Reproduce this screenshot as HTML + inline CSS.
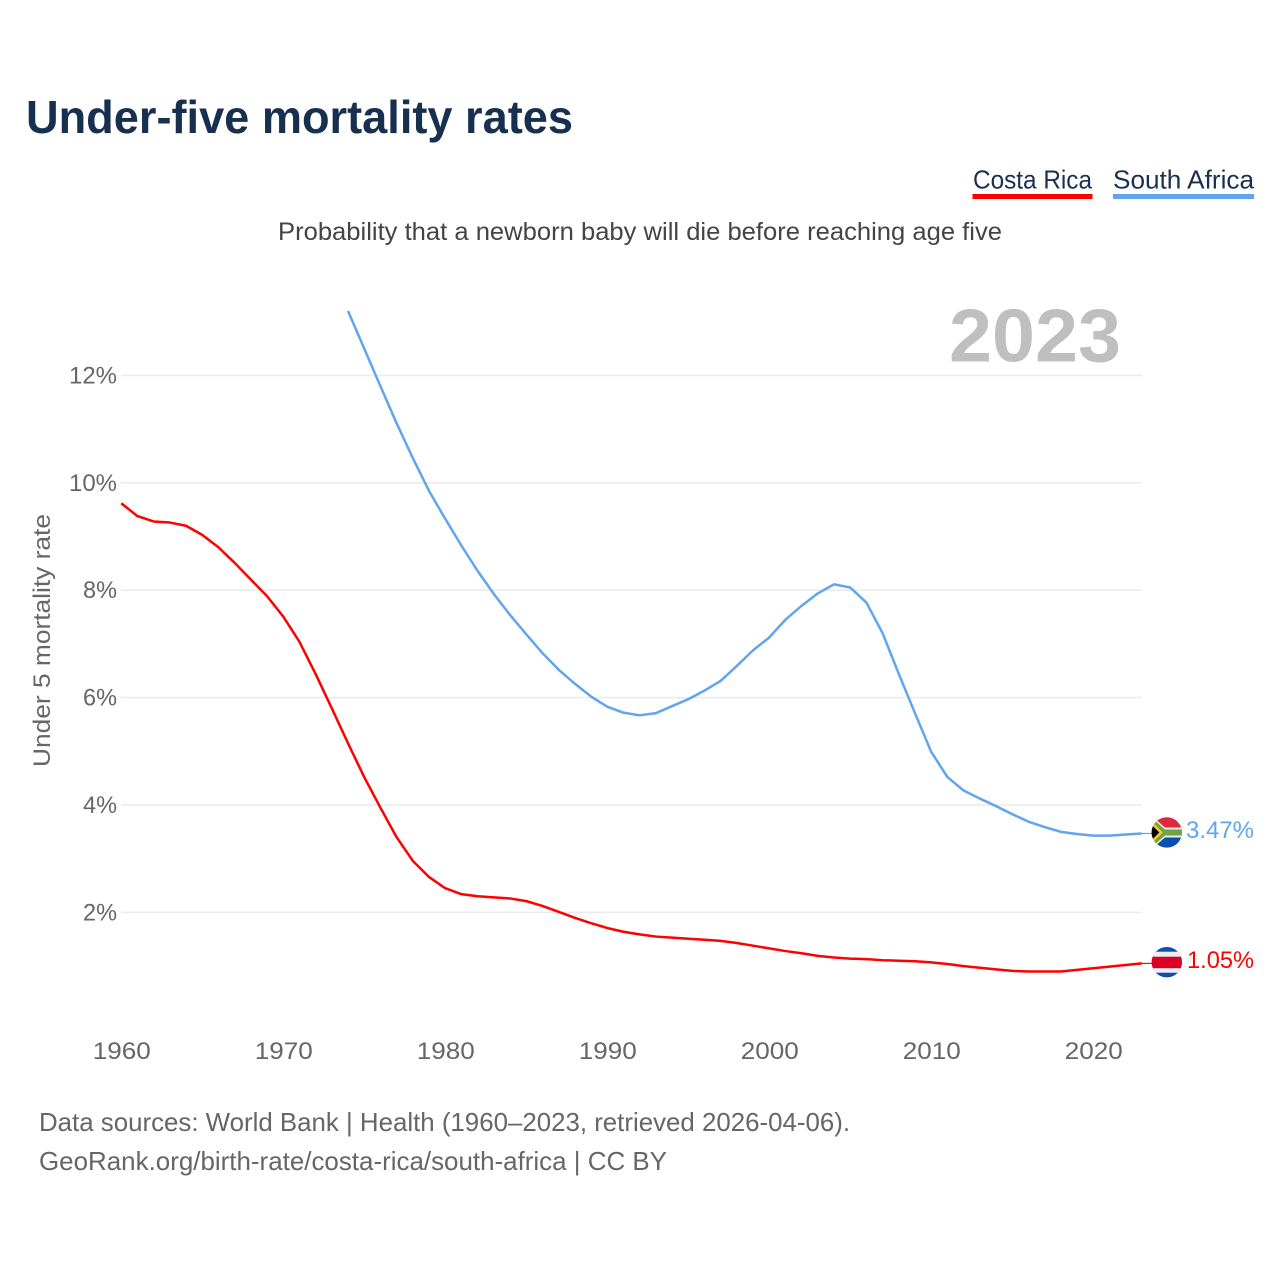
<!DOCTYPE html>
<html lang="en">
<head>
<meta charset="utf-8">
<title>Under-five mortality rates</title>
<style>
html,body{margin:0;padding:0;background:#fff;}
svg{display:block;font-family:"Liberation Sans",sans-serif;}
</style>
</head>
<body>
<svg id="chart" xmlns="http://www.w3.org/2000/svg" width="1280" height="1280" viewBox="0 0 1280 1280">
  <defs>
    <clipPath id="flag-clip"><circle cx="0" cy="0" r="15.2"/></clipPath>
  </defs>
  <rect x="0" y="0" width="1280" height="1280" fill="#ffffff"/>
  <text x="26" y="133" font-size="46" font-weight="700" fill="#17304f" textLength="547" lengthAdjust="spacingAndGlyphs">Under-five mortality rates</text>
  <text x="973" y="188.5" font-size="26" fill="#1a3050" textLength="119" lengthAdjust="spacingAndGlyphs">Costa Rica</text>
  <rect x="972.5" y="194" width="120" height="5" fill="#ff0000"/>
  <text x="1113" y="188.5" font-size="26" fill="#1a3050" textLength="141" lengthAdjust="spacingAndGlyphs">South Africa</text>
  <rect x="1113" y="194" width="141" height="5" fill="#60a5ee"/>
  <text x="278" y="240" font-size="25" fill="#444444" textLength="724" lengthAdjust="spacingAndGlyphs">Probability that a newborn baby will die before reaching age five</text>
  <g id="grid"></g>
  <text x="949" y="361.5" font-size="75" font-weight="700" fill="#bfbfbf" textLength="172" lengthAdjust="spacingAndGlyphs">2023</text>
  <text transform="translate(50,767) rotate(-90)" x="0" y="0" font-size="24" fill="#666666" textLength="253" lengthAdjust="spacingAndGlyphs">Under 5 mortality rate</text>
  <g id="y-ticks"></g>
  <g id="x-ticks"></g>
  <g id="series"></g>

  <g id="flag-sa">
    <g clip-path="url(#flag-clip)">
      <rect x="-16" y="-16" width="32" height="16" fill="#de2a3c"/>
      <rect x="-16" y="0" width="32" height="16" fill="#0a50b0"/>
      <polyline points="-20,-15 -3,0 -20,15" fill="none" stroke="#eeeeee" stroke-width="9"/>
      <line x1="-3" y1="0" x2="17" y2="0" stroke="#eeeeee" stroke-width="10"/>
      <polyline points="-20,-15 -3,0 -20,15" fill="none" stroke="#6da544" stroke-width="6"/>
      <line x1="-3" y1="0" x2="17" y2="0" stroke="#6da544" stroke-width="6"/>
      <polygon points="-16,-12 -4,0 -16,12" fill="#ffc72c"/>
      <polygon points="-16,-8.5 -7.5,0 -16,8.5" fill="#000000"/>
    </g>
  </g>
  <g id="flag-cr">
    <g clip-path="url(#flag-clip)">
      <rect x="-16" y="-16" width="32" height="32" fill="#0a50b0"/>
      <rect x="-16" y="-10.5" width="32" height="21" fill="#eeeeee"/>
      <rect x="-16" y="-5.5" width="32" height="11.5" fill="#d80027"/>
    </g>
  </g>
  <text id="label-sa" x="1186" y="838" font-size="24" fill="#60a5ee" textLength="68" lengthAdjust="spacingAndGlyphs"></text>
  <text id="label-cr" x="1187" y="968" font-size="24" fill="#ff0000" textLength="67" lengthAdjust="spacingAndGlyphs"></text>

  <text x="39" y="1131" font-size="26" fill="#666666" textLength="811" lengthAdjust="spacingAndGlyphs">Data sources: World Bank | Health (1960–2023, retrieved 2026-04-06).</text>
  <text x="39" y="1170" font-size="26" fill="#666666" textLength="628" lengthAdjust="spacingAndGlyphs">GeoRank.org/birth-rate/costa-rica/south-africa | CC BY</text>
</svg>
<script>
const years = [1960,1961,1962,1963,1964,1965,1966,1967,1968,1969,
  1970,1971,1972,1973,1974,1975,1976,1977,1978,1979,
  1980,1981,1982,1983,1984,1985,1986,1987,1988,1989,
  1990,1991,1992,1993,1994,1995,1996,1997,1998,1999,
  2000,2001,2002,2003,2004,2005,2006,2007,2008,2009,
  2010,2011,2012,2013,2014,2015,2016,2017,2018,2019,
  2020,2021,2022,2023];
const costaRica = [9.62,9.38,9.28,9.26,9.20,9.03,8.80,8.51,8.20,7.89,
  7.51,7.04,6.44,5.80,5.15,4.52,3.95,3.40,2.96,2.66,
  2.45,2.34,2.30,2.28,2.26,2.21,2.12,2.01,1.90,1.80,
  1.71,1.64,1.59,1.55,1.53,1.51,1.49,1.47,1.43,1.38,
  1.33,1.28,1.24,1.19,1.16,1.14,1.13,1.11,1.10,1.09,
  1.07,1.04,1.00,0.97,0.94,0.91,0.90,0.90,0.90,0.93,
  0.96,0.99,1.02,1.05];
const southAfrica = [null,null,null,null,null,null,null,null,null,null,
  null,null,null,null,13.20,12.50,11.80,11.11,10.46,9.85,
  9.33,8.83,8.36,7.93,7.54,7.18,6.83,6.52,6.26,6.02,
  5.83,5.72,5.67,5.71,5.84,5.97,6.13,6.31,6.59,6.88,
  7.12,7.45,7.71,7.94,8.11,8.05,7.77,7.20,6.44,5.71,
  4.99,4.52,4.27,4.12,3.98,3.83,3.69,3.59,3.50,3.46,
  3.43,3.43,3.45,3.47];
const yTickValues = [2,4,6,8,10,12];
const xTickValues = [1960,1970,1980,1990,2000,2010,2020];

const SVG_NS = 'http://www.w3.org/2000/svg';
function xScale(year){ return 121.2 + (year - 1960) * 16.2; }
function yScale(value){ return 1019.8 - value * 53.7; }
function make(tag, parent, attrs){
  const el = document.createElementNS(SVG_NS, tag);
  for (const k in attrs) el.setAttribute(k, attrs[k]);
  parent.appendChild(el);
  return el;
}
function buildPath(values){
  let d = '';
  values.forEach(function(v, i){
    if (v === null) return;
    d += (d ? 'L' : 'M') + xScale(years[i]).toFixed(2) + ' ' + yScale(v).toFixed(2);
  });
  return d;
}

const gridGroup = document.getElementById('grid');
const yTickGroup = document.getElementById('y-ticks');
yTickValues.forEach(function(v){
  const line = make('line', gridGroup, {x1: 121, x2: 1142, y1: yScale(v), y2: yScale(v), stroke: '#ececec', 'stroke-width': 1.6});
  
  
  const t = make('text', yTickGroup, {x: 117, y: yScale(v) + 8, 'text-anchor': 'end', 'font-size': 24, fill: '#666666', textLength: v >= 10 ? 48 : 34, lengthAdjust: 'spacingAndGlyphs'});
  
  
  t.textContent = v + '%';
});

const xTickGroup = document.getElementById('x-ticks');
xTickValues.forEach(function(yr){
  const t = make('text', xTickGroup, {x: xScale(yr) + 0.6, y: 1059, 'text-anchor': 'middle', 'font-size': 24, fill: '#666666', textLength: 58, lengthAdjust: 'spacingAndGlyphs'});
  
  
  t.textContent = yr;
});

const seriesGroup = document.getElementById('series');
const crLine = make('path', seriesGroup, {d: buildPath(costaRica), fill: 'none', stroke: '#ff0000', 'stroke-width': 2.5, 'stroke-linejoin': 'round'});


const saLine = make('path', seriesGroup, {d: buildPath(southAfrica), fill: 'none', stroke: '#60a5ee', 'stroke-width': 2.5, 'stroke-linejoin': 'round'});



const last = years.length - 1;
const crEndY = yScale(costaRica[last]);
const saEndY = yScale(southAfrica[last]);
const crConnector = make('line', seriesGroup, {x1: xScale(years[last]), x2: 1152, y1: crEndY, y2: crEndY, stroke: '#ff0000', 'stroke-width': 1.2});


const saConnector = make('line', seriesGroup, {x1: xScale(years[last]), x2: 1152, y1: saEndY, y2: saEndY, stroke: '#60a5ee', 'stroke-width': 1.2});



document.getElementById('flag-sa').setAttribute('transform', 'translate(1166.8,' + (saEndY - 1) + ')');
document.getElementById('flag-cr').setAttribute('transform', 'translate(1166.8,' + (crEndY - 1.2) + ')');
const labelSa = document.getElementById('label-sa');
labelSa.setAttribute('y', saEndY + 4.5);
labelSa.textContent = southAfrica[last].toFixed(2) + '%';
const labelCr = document.getElementById('label-cr');
labelCr.setAttribute('y', crEndY + 4.5);
labelCr.textContent = costaRica[last].toFixed(2) + '%';
</script>
</body>
</html>
